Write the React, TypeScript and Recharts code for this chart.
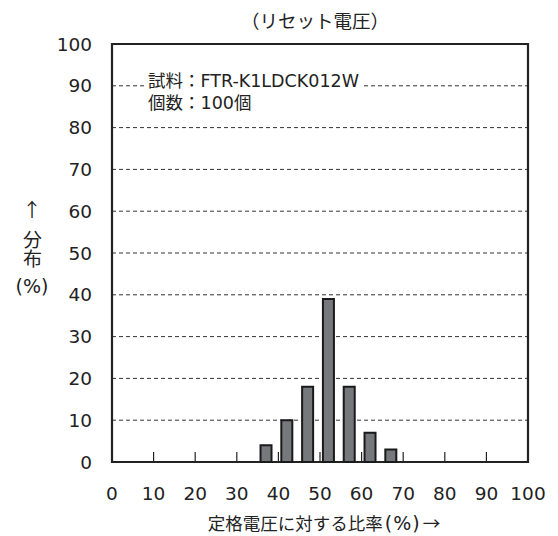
import { BarChart, Bar, XAxis, YAxis, CartesianGrid, ReferenceArea } from 'recharts';

// ratio to rated voltage (%) -> distribution (%)
const RATIOS = [37, 42, 47, 52, 57, 62, 67];
const SHARES = [4, 10, 18, 39, 18, 7, 3];
const X_TICKS = [0, 10, 20, 30, 40, 50, 60, 70, 80, 90, 100];
const Y_TICKS = [0, 10, 20, 30, 40, 50, 60, 70, 80, 90, 100];

const TITLE = '（リセット電圧）';
const X_LABEL = '定格電圧に対する比率(%)→';
const Y_LABEL = ['↑', '分布', '(%)'];
const NOTES = ['試料：FTR-K1LDCK012W', '個数：100個'];

const data = RATIOS.map((r, i) => ({ ratio: r, share: SHARES[i] }));

const NUM_FONT = '"DejaVu Sans", sans-serif';
const NOTE_FONT = '"DejaVu Sans", "Noto Sans CJK JP", sans-serif';
const JP_FONT = '"Noto Sans CJK JP", sans-serif';

const W = 558;
const H = 536;
const PLOT_LEFT = 112;
const PLOT_RIGHT = 528;
const PLOT_TOP = 44;
const PLOT_BOTTOM = 462;

function XTick(props: any) {
  const { x, y, payload } = props;
  const v = payload.value;
  return (
    <g>
      {v > 0 && v < 100 && (
        <line x1={x} x2={x} y1={y} y2={y - 10} stroke="#222" strokeWidth={1.2} />
      )}
      <text x={x} y={y + 38} textAnchor="middle" fontSize={18.5} fill="#222" fontFamily={NUM_FONT}>
        {v}
      </text>
    </g>
  );
}

const labelBox = {
  position: 'absolute' as const,
  left: 2,
  width: 60,
  textAlign: 'center' as const,
  color: '#222',
};

export default function App() {
  const pctAt = X_LABEL.indexOf('(');
  return (
    <div style={{ position: 'absolute', left: 0, top: 0, width: W, height: H, background: '#fff' }}>
      <BarChart
        width={W}
        height={H}
        data={data}
        margin={{ top: PLOT_TOP, right: W - PLOT_RIGHT, bottom: H - PLOT_BOTTOM - 40, left: PLOT_LEFT - 60 }}
      >
        <CartesianGrid vertical={false} stroke="#333" strokeDasharray="4 3" strokeWidth={1} />
        <XAxis
          dataKey="ratio"
          type="number"
          domain={[0, 100]}
          ticks={X_TICKS}
          height={40}
          tickSize={0}
          tickMargin={0}
          tickLine={false}
          axisLine={false}
          tick={<XTick />}
          interval={0}
        />
        <YAxis
          type="number"
          domain={[0, 100]}
          ticks={Y_TICKS}
          width={60}
          tickLine={false}
          axisLine={false}
          tickMargin={14}
          interval={0}
          tick={{ fontSize: 18.5, fill: '#222', fontFamily: NUM_FONT }}
        />
        <Bar dataKey="share" fill="#77787c" stroke="#1a1a1a" strokeWidth={2} barSize={11} isAnimationActive={false} />
        <ReferenceArea x1={0} x2={100} y1={0} y2={100} fill="none" stroke="#222" strokeWidth={2.2} ifOverflow="visible" />
      </BarChart>

      <div
        style={{
          position: 'absolute', left: 165, width: 300, top: 8, height: 24, lineHeight: '24px', textAlign: 'center',
          fontFamily: JP_FONT, fontSize: 18.5, color: '#222',
        }}
      >
        {TITLE}
      </div>

      <div
        style={{
          position: 'absolute', left: 146, top: 70, background: '#fff', padding: '0 2px',
          fontFamily: NOTE_FONT, fontSize: 17.5, lineHeight: '22px', color: '#222', whiteSpace: 'nowrap',
        }}
      >
        {NOTES.map((n) => <div key={n}>{n}</div>)}
      </div>

      {/* stacked y-axis label: arrow, vertical kanji, unit */}
      <div style={{ ...labelBox, top: 197, height: 24, lineHeight: '24px', fontFamily: JP_FONT, fontSize: 19 }}>
        {Y_LABEL[0]}
      </div>
      <div style={{ ...labelBox, top: 229.5, height: 38, display: 'flex', justifyContent: 'center' }}>
        <div style={{ writingMode: 'vertical-rl', fontFamily: JP_FONT, fontSize: 19, lineHeight: '22px' }}>
          {Y_LABEL[1]}
        </div>
      </div>
      <div style={{ ...labelBox, top: 274, height: 24, lineHeight: '24px', fontFamily: NUM_FONT, fontSize: 19 }}>
        {Y_LABEL[2]}
      </div>

      <div
        style={{
          position: 'absolute', left: 124, width: 400, top: 511, height: 24, lineHeight: '24px', textAlign: 'center',
          fontFamily: JP_FONT, fontSize: 17.5, color: '#222', whiteSpace: 'nowrap',
        }}
      >
        {X_LABEL.slice(0, pctAt)}
        <span style={{ fontFamily: NUM_FONT, fontSize: 19, letterSpacing: 1, padding: '0 2px' }}>
          {X_LABEL.slice(pctAt, pctAt + 3)}
        </span>
        {X_LABEL.slice(pctAt + 3)}
      </div>
    </div>
  );
}
